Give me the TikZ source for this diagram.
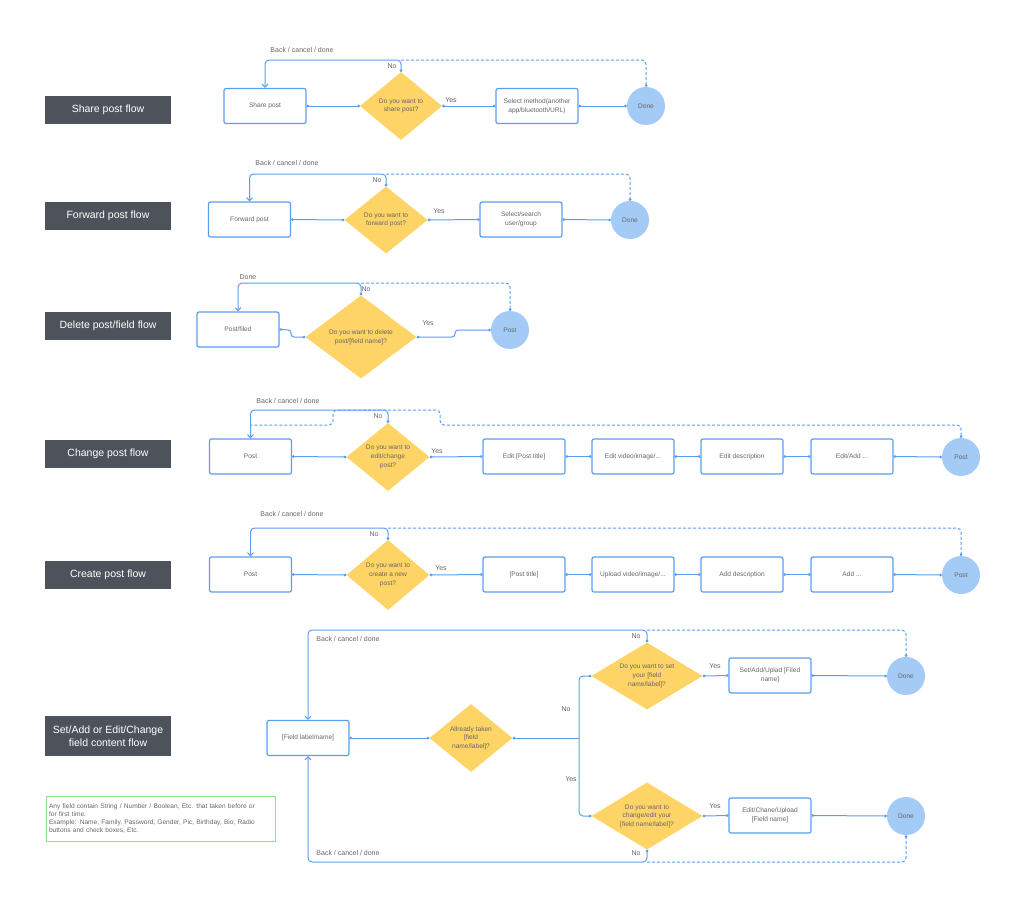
\documentclass[tikz,border=0pt]{standalone}
\usepackage{fontspec}
\setmainfont{Liberation Sans}
\usetikzlibrary{shapes.geometric,arrows.meta}
\definecolor{lineblue}{HTML}{5A9EF2}
\definecolor{diayellow}{HTML}{FFD466}
\definecolor{circblue}{HTML}{A3CBF6}
\definecolor{titlegray}{HTML}{4E535B}
\definecolor{txtgray}{HTML}{666666}
\definecolor{notegreen}{HTML}{8EDF8E}
\begin{document}
\begin{tikzpicture}[x=1pt,y=-1pt,
  title/.style={rectangle, fill=titlegray, text=white, minimum width=126pt, minimum height=28pt, align=center, font=\fontsize{10.5}{12.5}\selectfont, inner sep=1pt},
  box/.style={rectangle, rounded corners=2pt, draw=lineblue, line width=1.2pt, fill=white, minimum width=82pt, minimum height=35pt, align=center, text=txtgray, font=\fontsize{6.6}{8.6}\selectfont, inner sep=1pt},
  circ/.style={circle, fill=circblue, minimum size=38pt, text=txtgray, font=\fontsize{6.6}{8}\selectfont, inner sep=0pt},
  dia/.style={diamond, fill=diayellow, inner sep=0pt},
  dtext/.style={align=center, text=txtgray, font=\fontsize{6.6}{8.6}\selectfont, inner sep=0pt},
  lab/.style={text=txtgray, font=\fontsize{7}{8}\selectfont, inner sep=0pt},
  flow/.style={draw=lineblue, line width=1pt, {Circle[length=2.6pt]}-{Circle[length=2.6pt]}},
  branch/.style={draw=lineblue, line width=1pt, rounded corners=4pt, -{Circle[length=2.6pt]}},
  back/.style={draw=lineblue, line width=1pt, rounded corners=4pt, {Circle[length=2.6pt]}-{Straight Barb[length=3pt,width=6pt]}},
  dsh/.style={draw=lineblue, line width=1pt, dash pattern=on 3pt off 2pt, rounded corners=4pt, -{Circle[length=2.6pt]}},
  note/.style={rectangle, draw=notegreen, line width=1pt, minimum width=229pt, minimum height=45pt, text width=223pt, align=left, text=txtgray, font=\fontsize{6.6}{8.2}\selectfont, inner xsep=3pt, inner ysep=3pt}
]
\useasboundingbox (0,0) rectangle (1024,900);

% titles
\node[title] (t1) at (108,110) {Share post flow};
\node[title] (t2) at (108,216) {Forward post flow};
\node[title] (t3) at (108,325.5) {Delete post/field flow};
\node[title] (t4) at (108,453.5) {Change post flow};
\node[title] (t5) at (108,574.5) {Create post flow};
\node[title, minimum height=40pt] (t6) at (108,736) {Set/Add or Edit/Change\\field content flow};

% ---------- Row 1: Share ----------
\node[box] (b1) at (265,106) {Share post};
\node[dia, minimum width=82pt, minimum height=68pt, label={[dtext]center:{Do you want to\\share post?}}] (d1) at (401,106) {};
\node[box] (s1) at (537,106) {Select method(another\\app/bluetooth/URL)};
\node[circ] (c1) at (646,106) {Done};
\draw[flow] (b1.east) -- (d1.west);
\draw[flow] (d1.east) -- (s1.west);
\draw[flow] (s1.east) -- (c1.west);
\coordinate (k1) at (401,60);
\draw[back] (d1.north) -- (k1) -| (b1.north);
\draw[dsh] (k1) -| (c1.north);
\node[lab] (n1) at (392,66) {No};
\node[lab] (y1) at (451,100) {Yes};
\node[lab] (bk1) at (302,50) {Back / cancel / done};

% ---------- Row 2: Forward ----------
\node[box] (b2) at (249.5,219.5) {Forward post};
\node[dia, minimum width=83pt, minimum height=67pt, label={[dtext]center:{Do you want to\\forward post?}}] (d2) at (386,220) {};
\node[box] (s2) at (521,219.5) {Select/search\\user/group};
\node[circ] (c2) at (630,220) {Done};
\draw[flow] (b2.east) -- (d2.west);
\draw[flow] (d2.east) -- (s2.west);
\draw[flow] (s2.east) -- (c2.west);
\coordinate (k2) at (386,174);
\draw[back] (d2.north) -- (k2) -| (b2.north);
\draw[dsh] (k2) -| (c2.north);
\node[lab] (n2) at (377,180) {No};
\node[lab] (y2) at (439,211) {Yes};
\node[lab] (bk2) at (287,163) {Back / cancel / done};

% ---------- Row 3: Delete ----------
\node[box] (b3) at (238,329.5) {Post/filed};
\node[dia, minimum width=111pt, minimum height=83pt, label={[dtext]center:{Do you want to delete\\post/[field name]?}}] (d3) at (361,337) {};
\node[circ] (c3) at (510,330) {Post};
\draw[flow, rounded corners=3pt] (b3.east) -- (291,330) -- (291,337) -- (d3.west);
\draw[flow, rounded corners=3pt] (d3.east) -- (455,337) -- (455,330) -- (c3.west);
\coordinate (k3) at (361,283);
\draw[back] (d3.north) -- (k3) -| (b3.north);
\draw[dsh] (k3) -| (c3.north);
\node[lab] (n3) at (366,289) {No};
\node[lab] (y3) at (428,323) {Yes};
\node[lab] (bk3) at (248,277) {Done};

% ---------- Row 4: Change ----------
\node[box] (b4) at (250.5,456.5) {Post};
\node[dia, minimum width=83pt, minimum height=68pt, label={[dtext]center:{Do you want to\\edit/change\\post?}}] (d4) at (388,457) {};
\node[box] (e1) at (524,456.5) {Edit [Post title]};
\node[box] (e2) at (633,456.5) {Edit video/image/...};
\node[box] (e3) at (742,456.5) {Edit description};
\node[box] (e4) at (852,456.5) {Edit/Add ...};
\node[circ] (c4) at (961,457) {Post};
\draw[flow] (b4.east) -- (d4.west);
\draw[flow] (d4.east) -- (e1.west);
\draw[flow] (e1.east) -- (e2.west);
\draw[flow] (e2.east) -- (e3.west);
\draw[flow] (e3.east) -- (e4.west);
\draw[flow] (e4.east) -- (c4.west);
\coordinate (k4) at (388,410);
\coordinate (j4) at (251,425);
\draw[back] (d4.north) -- (k4) -| (b4.north);
\draw[draw=lineblue, line width=1pt, dash pattern=on 3pt off 2pt, rounded corners=4pt, {Circle[length=2.6pt]}-] (c4.north) -- (961,425) -- (440,425) -- (440,410) -- (333,410) -- (333,425) -- (j4);
\node[lab] (n4) at (378,416) {No};
\node[lab] (y4) at (437,451) {Yes};
\node[lab] (bk4) at (288,401) {Back / cancel / done};

% ---------- Row 5: Create ----------
\node[box] (b5) at (250.5,574.5) {Post};
\node[dia, minimum width=83pt, minimum height=70pt, label={[dtext]center:{Do you want to\\create a new\\post?}}] (d5) at (388,575) {};
\node[box] (f1) at (524,574.5) {[Post title]};
\node[box] (f2) at (633,574.5) {Upload video/image/...};
\node[box] (f3) at (742,574.5) {Add description};
\node[box] (f4) at (852,574.5) {Add ...};
\node[circ] (c5) at (961,575) {Post};
\draw[flow] (b5.east) -- (d5.west);
\draw[flow] (d5.east) -- (f1.west);
\draw[flow] (f1.east) -- (f2.west);
\draw[flow] (f2.east) -- (f3.west);
\draw[flow] (f3.east) -- (f4.west);
\draw[flow] (f4.east) -- (c5.west);
\coordinate (k5) at (388,528);
\draw[back] (d5.north) -- (k5) -| (b5.north);
\draw[dsh] (k5) -| (c5.north);
\node[lab] (n5) at (374,534) {No};
\node[lab] (y5) at (441,568) {Yes};
\node[lab] (bk5) at (292,514) {Back / cancel / done};

% ---------- Row 6: Set/Add or Edit/Change ----------
\node[box] (g1) at (308,738) {[Field label/name]};
\node[dia, minimum width=83pt, minimum height=68pt, label={[dtext]center:{Allready taken\\{[field}\\name/label]?}}] (d6) at (471,738) {};
\node[dia, minimum width=111pt, minimum height=67pt, label={[dtext]center:{Do you want to set\\your [field\\name/label]?}}] (du) at (647,676) {};
\node[dia, minimum width=111pt, minimum height=67pt, label={[dtext]center:{Do you want to\\change/edit your\\{[field name/label]?}}}] (dl) at (647,816) {};
\node[box] (h1) at (770,675.5) {Set/Add/Uplad [Filed\\name]};
\node[box] (h2) at (770,815.5) {Edit/Chane/Upload\\{[Field name]}};
\node[circ] (cu) at (906,676) {Done};
\node[circ] (cl) at (906,816) {Done};
\coordinate (br) at (579,738);
\draw[flow] (g1.east) -- (d6.west);
\draw[draw=lineblue, line width=1pt, {Circle[length=2.6pt]}-] (d6.east) -- (br);
\draw[branch] (br) |- (du.west);
\draw[branch] (br) |- (dl.west);
\draw[flow] (du.east) -- (h1.west);
\draw[flow] (h1.east) -- (cu.west);
\draw[flow] (dl.east) -- (h2.west);
\draw[flow] (h2.east) -- (cl.west);
\coordinate (ku) at (647,630);
\coordinate (kl) at (647,862);
\draw[back] (du.north) -- (ku) -| (g1.north);
\draw[dsh] (ku) -| (cu.north);
\draw[back] (dl.south) -- (kl) -| (g1.south);
\draw[dsh] (kl) -| (cl.south);
\node[lab] (nu) at (636,636) {No};
\node[lab] (nl) at (636,853) {No};
\node[lab] (n6) at (566,709) {No};
\node[lab] (y6) at (571,779) {Yes};
\node[lab] (yu) at (715,666) {Yes};
\node[lab] (yl) at (715,806) {Yes};
\node[lab] (bku) at (348,639) {Back / cancel / done};
\node[lab] (bkl) at (348,853) {Back / cancel / done};

% note
\node[note] (nt) at (160.5,818.5) {Any field contain String / Number / Boolean, Etc. that taken before or\\for first time.\\Example: Name, Family, Password, Gender, Pic, Birthday, Bio, Radio\\buttons and check boxes, Etc.};
\end{tikzpicture}
\end{document}
